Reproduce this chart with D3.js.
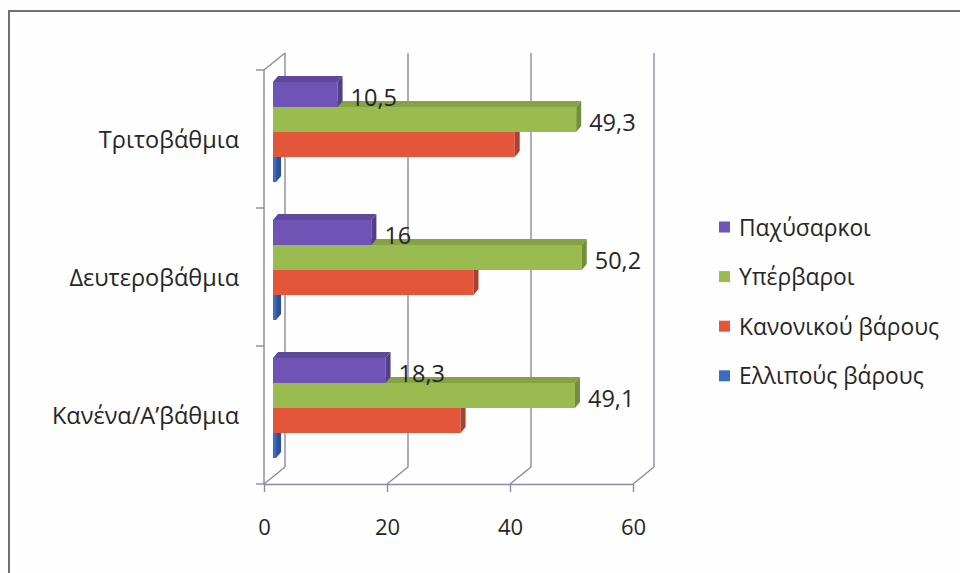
<!DOCTYPE html>
<html>
<head>
<meta charset="utf-8">
<script src="https://cdn.jsdelivr.net/npm/d3@7"></script>
<style>
  html, body { margin: 0; padding: 0; background: #fdfefd; }
  svg { display: block; }
  text { font-family: "Open Sans", "Noto Sans", sans-serif; fill: #262626; }
</style>
</head>
<body>
<div id="chart"></div>
<script>
// ---- data ----
const categories = ["Τριτοβάθμια", "Δευτεροβάθμια", "Κανένα/Α’βάθμια"];
const seriesNames = ["Παχύσαρκοι", "Υπέρβαροι", "Κανονικού βάρους", "Ελλιπούς βάρους"];
const obese       = [10.5, 16, 18.3];
const overweight  = [49.3, 50.2, 49.1];
const normal      = [39.3, 32.6, 30.5];
const underweight = [0.5, 0.5, 0.5];
const labelled    = [true, true, false, false];
const xTicks = [0, 20, 40, 60];

const seriesValues = [obese, overweight, normal, underweight];
const colors = ["#6f53b5", "#99bb50", "#e4563a", "#3a6cc6"];

// ---- layout ----
const W = 960, H = 573;
const svg = d3.select("#chart").append("svg").attr("width", W).attr("height", H);

svg.append("rect").attr("width", W).attr("height", H).attr("fill", "#fdfefd");
// outer frame (left + top visible)
svg.append("path").attr("d", "M9,573 L9,11 L960,11")
  .attr("fill", "none").attr("stroke", "#6e6e82").attr("stroke-width", 2);

const x = d3.scaleLinear().domain([0, 60]).range([264, 633]);
const y = d3.scaleBand().domain(categories).range([70, 484]);
const ys = d3.scaleBand().domain(seriesNames).range([0, y.bandwidth()]).paddingInner(0).paddingOuter(0.76);

const wall = { dx: 21, dy: -17 };
const barOff = { dx: 9, dy: -7 };
const barDepth = { dx: 5, dy: -6 };
const gridColor = "#8a8aa6";
const yBottom = y.range()[1], yTop = y.range()[0];

const grid = svg.append("g").attr("stroke", gridColor).attr("stroke-width", 1.4).attr("fill", "none");
// back wall vertical gridlines + floor diagonals
xTicks.forEach(t => {
  grid.append("line")
    .attr("x1", x(t) + wall.dx).attr("y1", yTop + wall.dy)
    .attr("x2", x(t) + wall.dx).attr("y2", yBottom + wall.dy);
  grid.append("line")
    .attr("x1", x(t)).attr("y1", yBottom)
    .attr("x2", x(t) + wall.dx).attr("y2", yBottom + wall.dy);
});
// left wall front edge and top edge
grid.append("line").attr("x1", x(0)).attr("y1", yTop).attr("x2", x(0)).attr("y2", yBottom);
grid.append("line").attr("x1", x(0)).attr("y1", yTop).attr("x2", x(0) + wall.dx).attr("y2", yTop + wall.dy);
// category ticks
const catTickYs = categories.map(c => y(c)).concat([yBottom]);
catTickYs.forEach(v => {
  grid.append("line").attr("x1", x(0) - 8).attr("y1", v).attr("x2", x(0)).attr("y2", v);
});

// value axis
const xAxis = d3.axisBottom(x).tickValues(xTicks).tickSize(8).tickSizeOuter(0).tickFormat(d3.format("d"));
const gx = svg.append("g").attr("transform", `translate(0,${yBottom})`).call(xAxis);
gx.select(".domain").attr("stroke", gridColor).attr("stroke-width", 1.4);
gx.selectAll(".tick line").attr("stroke", gridColor).attr("stroke-width", 1.4);
gx.selectAll(".tick text").attr("y", 51).attr("dy", 0)
  .style("font-size", "22px").style("font-family", '"Open Sans", "Noto Sans", sans-serif').attr("fill", "#262626");

// category labels
svg.append("g").selectAll("text").data(categories).join("text")
  .attr("x", 239).attr("y", d => y(d) + y.bandwidth() / 2 + 9)
  .attr("text-anchor", "end").style("font-size", "23.5px").text(d => d);

// bars
const barsG = svg.append("g");
categories.forEach((c, ci) => {
  for (let si = seriesNames.length - 1; si >= 0; si--) {
    const s = seriesNames[si];
    const v = seriesValues[si][ci];
    const col = d3.color(colors[si]);
    const x0 = x(0) + barOff.dx, x1 = x(v) + barOff.dx;
    const yt = y(c) + ys(s) + barOff.dy, yb = yt + ys.bandwidth();
    const g = barsG.append("g");
    g.append("polygon")
      .attr("points", [[x0, yt], [x0 + barDepth.dx, yt + barDepth.dy], [x1 + barDepth.dx, yt + barDepth.dy], [x1, yt]].join(" "))
      .attr("fill", col.darker(0.4));
    g.append("rect").attr("x", x0).attr("y", yt).attr("width", x1 - x0).attr("height", yb - yt)
      .attr("fill", col);
    g.append("polygon")
      .attr("points", [[x1, yt], [x1 + barDepth.dx, yt + barDepth.dy], [x1 + barDepth.dx, yb + barDepth.dy], [x1, yb]].join(" "))
      .attr("fill", col.darker(0.8));
  }
});

// data labels
const labelsG = svg.append("g");
categories.forEach((c, ci) => {
  seriesNames.forEach((s, si) => {
    if (!labelled[si]) return;
    const v = seriesValues[si][ci];
    const yt = y(c) + ys(s) + barOff.dy;
    labelsG.append("text")
      .attr("x", x(v) + barOff.dx + 13)
      .attr("y", yt + ys.bandwidth() / 2 + 2)
      .attr("dominant-baseline", "central")
      .style("font-size", "23.5px")
      .text(String(v).replace(".", ","));
  });
});

// legend
const legend = svg.append("g");
seriesNames.forEach((s, i) => {
  const cy = 227 + i * 49.6;
  legend.append("rect").attr("x", 719).attr("y", cy - 5.5).attr("width", 11).attr("height", 11).attr("fill", colors[i]);
  legend.append("text").attr("x", 739).attr("y", cy).attr("dominant-baseline", "central")
    .style("font-size", "22.8px").text(s);
});
</script>
</body>
</html>
